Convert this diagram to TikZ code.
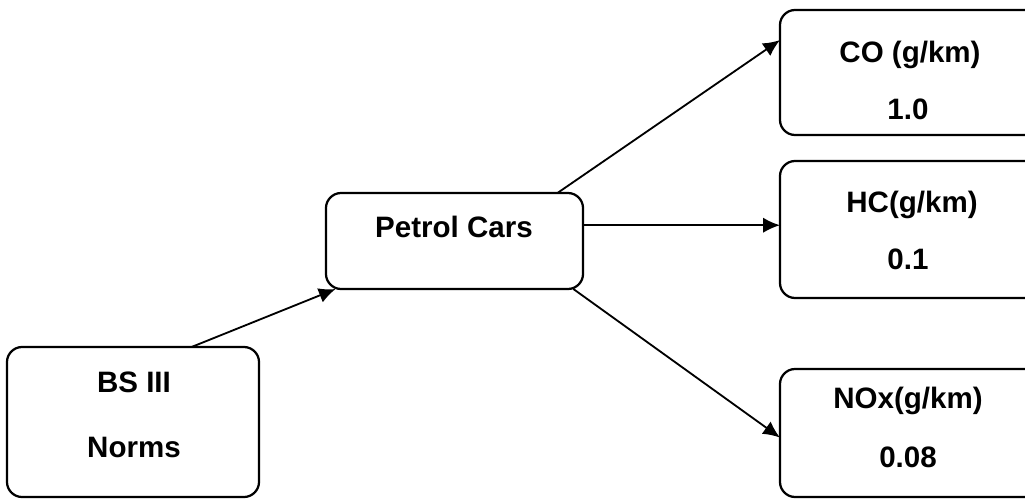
\documentclass[tikz,border=0pt]{standalone}
\usepackage{fontspec}
\setmainfont{Liberation Sans}
\usetikzlibrary{arrows.meta}

\begin{document}
\begin{tikzpicture}[x=0.025cm, y=-0.025cm,
    box/.style={draw, line width=1.6pt, rounded corners=0.38cm, inner sep=0pt, outer sep=0pt},
    lbl/.style={anchor=base, font=\fontsize{21}{25}\selectfont\bfseries},
    arr/.style={-{Latex[length=0.42cm, width=0.38cm]}, line width=1.3pt}]
  \useasboundingbox (0, 0) rectangle (1025, 499);
  \node[box, minimum width=6.3cm, minimum height=3.75cm] (bs) at (133, 422) {};
  \node[box, minimum width=6.425cm, minimum height=2.4cm] (petrol) at (454.5, 241) {};
  \node[box, minimum width=6.5cm, minimum height=3.125cm] (co) at (910, 72.5) {};
  \node[box, minimum width=6.5cm, minimum height=3.425cm] (hc) at (910, 229.5) {};
  \node[box, minimum width=6.5cm, minimum height=3.2cm] (nox) at (910, 433) {};
  \node[lbl] (bs1) at (134, 392) {BS III};
  \node[lbl] (bs2) at (134, 457) {Norms};
  \node[lbl] (p1) at (454, 237) {Petrol Cars};
  \node[lbl] (co1) at (910, 63) {CO (g/km)};
  \node[lbl] (co2) at (908, 119) {1.0};
  \node[lbl] (hc1) at (912, 212) {HC(g/km)};
  \node[lbl] (hc2) at (908, 269) {0.1};
  \node[lbl] (nox1) at (908, 408) {NOx(g/km)};
  \node[lbl] (nox2) at (908, 467) {0.08};
  \draw[arr] (bs.52) -- (petrol.202);
  \draw[arr] (petrol.25) -- (co.166);
  \draw[arr] (petrol.7) -- (petrol.7 -| hc.west);
  \draw[arr] (petrol.-22) -- (nox.182);
\end{tikzpicture}
\end{document}
